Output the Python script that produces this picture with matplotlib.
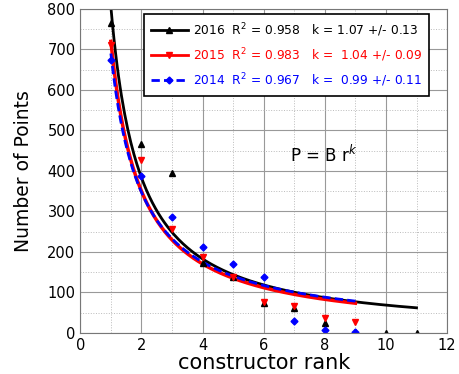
import matplotlib.pyplot as plt
import numpy as np
from matplotlib.ticker import MultipleLocator

# data
rank = [1, 2, 3, 4, 5, 6, 7, 8, 9, 10, 11]
pts_2016 = [765, 467, 396, 172, 137, 73, 61, 25, 3, 0, 0]
pts_2015 = [710, 427, 256, 187, 137, 77, 67, 36, 28]
pts_2014 = [674, 388, 286, 211, 170, 139, 29, 8, 1]

# fit parameters P = B r^-k
B_2016, k_2016 = 805, 1.07
B_2015, k_2015 = 720, 1.04
B_2014, k_2014 = 690, 0.99

labels = ["2016  R$^2$ = 0.958   k = 1.07 +/- 0.13",
          "2015  R$^2$ = 0.983   k =  1.04 +/- 0.09",
          "2014  R$^2$ = 0.967   k =  0.99 +/- 0.11"]

fig = plt.figure(figsize=(4.59, 3.74), dpi=100)
ax = fig.add_axes([0.175, 0.110, 0.799, 0.866])

r16 = np.linspace(1, 11, 200)
r15 = np.linspace(1, 9, 200)

# fitted curves
ax.plot(r16, B_2016 * r16 ** -k_2016, color='black', lw=2)
ax.plot(r15, B_2015 * r15 ** -k_2015, color='red', lw=2.5)
ax.plot(r15, B_2014 * r15 ** -k_2014, color='blue', lw=2, ls=(0, (3, 1.5)))

# data points
ax.plot(rank, pts_2016, '^', color='black', ms=5, ls='none')
ax.plot(rank[:9], pts_2015, 'v', color='red', ms=5, ls='none')
ax.plot(rank[:9], pts_2014, 'D', color='blue', ms=3.5, ls='none')

# legend handles
h1, = ax.plot([], [], color='black', lw=2, marker='^', ms=5)
h2, = ax.plot([], [], color='red', lw=2, marker='v', ms=5)
h3, = ax.plot([], [], color='blue', lw=2, ls=(0, (3, 1.5)), marker='D', ms=3.5)
leg = ax.legend([h1, h2, h3], labels, loc='upper right', bbox_to_anchor=(0.952, 0.985),
                borderaxespad=0, fontsize=8.8, frameon=True, fancybox=False,
                edgecolor='black', framealpha=1, handlelength=3.0, handletextpad=0.4,
                borderpad=0.6, labelspacing=0.6)
leg.get_frame().set_linewidth(1.2)
for t, c in zip(leg.get_texts(), ['black', 'red', 'blue']):
    t.set_color(c)

ax.text(6.85, 440, "P = B r$^{k}$", fontsize=12, va='center', ha='left')

ax.set_xlim(0, 12)
ax.set_ylim(0, 800)
ax.xaxis.set_major_locator(MultipleLocator(2))
ax.xaxis.set_minor_locator(MultipleLocator(1))
ax.yaxis.set_major_locator(MultipleLocator(100))
ax.yaxis.set_minor_locator(MultipleLocator(50))
ax.grid(which='major', color='#999999', lw=0.8)
ax.grid(which='minor', color='#bbbbbb', lw=0.7, ls=':')
ax.set_axisbelow(True)
ax.tick_params(which='both', length=0, labelsize=10.5)
for s in ax.spines.values():
    s.set_color('#777777')

ax.set_xlabel("constructor rank", fontsize=15, labelpad=0)
ax.set_ylabel("Number of Points", fontsize=13.5, labelpad=10)

fig.savefig('out.png', dpi=100)
